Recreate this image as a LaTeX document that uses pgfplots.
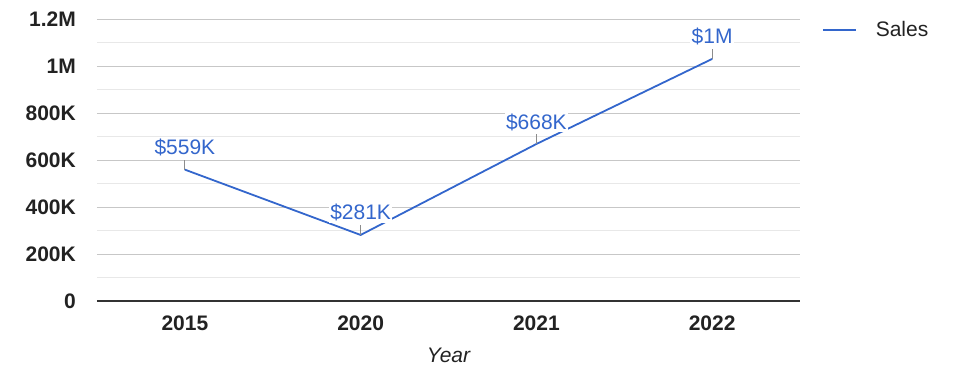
\documentclass[border=0pt]{standalone}
\usepackage{pgfplots}
\pgfplotsset{compat=1.18}
\usepackage{fontspec}
\setmainfont{Liberation Sans}
\definecolor{gblue}{HTML}{3366CC}
\definecolor{tickc}{HTML}{222222}
\newcommand{\chartfont}{\fontsize{21bp}{24bp}\selectfont}
\begin{document}
\begin{tikzpicture}
\path[use as bounding box] (-97bp,-77bp) rectangle (878bp,301bp);
\begin{axis}[
  scale only axis, width=703bp, height=282bp,
  xmin=-0.5, xmax=3.5, ymin=0, ymax=1200000,
  xtick={0,1,2,3}, xticklabels={2015,2020,2021,2022},
  ytick={0,200000,400000,600000,800000,1000000,1200000},
  yticklabels={0,200K,400K,600K,800K,1M,1.2M},
  minor ytick={100000,300000,500000,700000,900000,1100000},
  scaled y ticks=false,
  ymajorgrids, yminorgrids,
  major grid style={color=black!22, line width=0.9bp},
  minor grid style={color=black!9, line width=0.9bp},
  separate axis lines,
  axis x line*=bottom, axis y line*=left,
  x axis line style={draw=black!80, line width=1.2bp},
  y axis line style={draw=none},
  tick style={draw=none},
  clip=false,
  yticklabel style={font=\chartfont\bfseries, color=tickc, anchor=east, inner sep=0pt, xshift=-21bp},
  xticklabel style={font=\chartfont\bfseries, color=tickc, anchor=north, inner sep=0pt, yshift=-15bp},
  xlabel={Year},
  xlabel style={font=\chartfont\itshape, color=tickc, at={(axis description cs:0.5,0)}, anchor=north, inner sep=0pt, yshift=-47bp},
  legend style={at={(1.031,0.961)}, anchor=west, draw=none, fill=none, font=\chartfont, text=tickc, inner sep=0pt, column sep=0bp, nodes={inner sep=0pt}},
  legend cell align=left,
  legend image code/.code={\draw[#1] (0bp,0bp) -- (33bp,0bp); \path (52bp,0bp);},
]
\addplot[gblue, line width=1.8bp, mark=none,
  point meta=explicit symbolic,
  nodes near coords,
  every node near coord/.append style={anchor=base, yshift=15bp, font=\chartfont, text=gblue, fill=white, inner sep=1.5bp},
  error bars/.cd, y dir=plus, y explicit,
  error bar style={color=black!45, line width=0.9bp}, error mark=none]
  table[x=x, y=y, y error=e, meta=lab] {
x y e lab
0 559000 42500 \$559K
1 281000 42500 \$281K
2 668000 42500 \$668K
3 1030000 42500 \$1M
};
\addlegendentry{Sales}
\end{axis}
\end{tikzpicture}
\end{document}
